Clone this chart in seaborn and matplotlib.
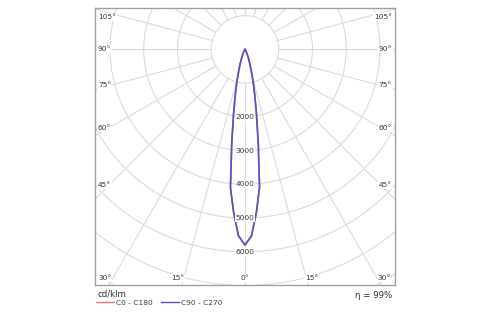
import numpy as np
import pandas as pd
import matplotlib
matplotlib.use("Agg")
import matplotlib.pyplot as plt
from matplotlib.patches import Circle
import seaborn as sns

# ---- data (cd/klm vs. gamma angle, symmetric curve) ----
gamma_deg = [0, 2, 4, 6, 8, 10, 12, 14, 16, 18, 20, 22, 25, 30, 35, 40, 45, 50, 60, 70, 80, 90]
c0_c180 = [5800, 5530, 4840, 4120, 2830, 1960, 1400, 1000, 700, 490, 340, 240, 130, 40, 10, 0, 0, 0, 0, 0, 0, 0]
c90_c270 = [5800, 5530, 4840, 4120, 2830, 1960, 1400, 1000, 700, 490, 340, 240, 130, 40, 10, 0, 0, 0, 0, 0, 0, 0]
series_names = ["C0 - C180", "C90 - C270"]
ring_values = [1000, 2000, 3000, 4000, 5000, 6000, 7000, 8000, 9000, 10000]
ring_labels = ["2000", "3000", "4000", "5000", "6000"]
ray_angles = list(range(-180, 181, 15))
side_labels = ["105°", "90°", "75°", "60°", "45°"]
bottom_labels = ["30°", "15°", "0°", "15°", "30°"]
unit_label = "cd/klm"
eta_label = "η = 99%"

colors = {"C0 - C180": "#e07a7a", "C90 - C270": "#5b4fc9"}

sns.set_theme(style="white")
plt.rcParams["font.family"] = ["DejaVu Sans"]

W, H = 500, 325
fig = plt.figure(figsize=(W / 100, H / 100), dpi=100)
# frame in px: x 95..395, y 8..285
fx0, fx1, fy0, fy1 = 95, 395, 8, 285
ax = fig.add_axes([fx0 / W, (H - fy1) / H, (fx1 - fx0) / W, (fy1 - fy0) / H])

scale = 0.03375  # px per cd/klm
cx, cy = 245, 49.3  # centre in px
ax.set_xlim((fx0 - cx) / scale, (fx1 - cx) / scale)
ax.set_ylim((cy - fy1) / scale, (cy - fy0) / scale)

grid_c = "#dcdcdc"
# rings
for r in ring_values:
    ax.add_patch(Circle((0, 0), r, fill=False, edgecolor=grid_c, lw=0.8, zorder=1))
# rays
for a in ray_angles:
    t = np.deg2rad(a)
    ax.plot([1000 * np.sin(t), 20000 * np.sin(t)], [-1000 * np.cos(t), -20000 * np.cos(t)],
            color=grid_c, lw=0.8, zorder=1)

# curve data frame
rows = []
for name, vals in zip(series_names, [c0_c180, c90_c270]):
    angs = [-a for a in gamma_deg[::-1]] + gamma_deg[1:]
    ints = vals[::-1] + vals[1:]
    for a, v in zip(angs, ints):
        t = np.deg2rad(a)
        rows.append({"x": v * np.sin(t), "y": -v * np.cos(t), "series": name})
df = pd.DataFrame(rows)
sns.lineplot(data=df, x="x", y="y", hue="series", palette=colors, sort=False,
             estimator=None, lw=1.2, ax=ax, zorder=3)
# red underneath is hidden by the blue; keep it slightly thinner
for ln in ax.get_lines()[-2:]:
    if ln.get_label() == "C0 - C180" or ln.get_color() == colors["C0 - C180"]:
        ln.set_linewidth(0.9)

ax.set_xlabel("")
ax.set_ylabel("")
ax.set_xticks([])
ax.set_yticks([])
for s in ax.spines.values():
    s.set_color("#a0a0a0")
    s.set_linewidth(1.0)
    s.set_visible(True)

fs = 5.4
tc = "#3a3a3a"
bb = dict(facecolor="white", edgecolor="none", pad=0.6)

def fx(px):
    return (px - fx0) / (fx1 - fx0)

def fy(py):
    return (fy1 - py) / (fy1 - fy0)

# ring labels
for lab in ring_labels:
    v = float(lab)
    ax.text(0, -v, lab, ha="center", va="center", fontsize=fs, color=tc, bbox=bb, zorder=5)

# side labels
side_y = [16.7, 49.3, 85, 127.7, 185]
for lab, py in zip(side_labels, side_y):
    ax.text(fx(98), fy(py), lab, transform=ax.transAxes, ha="left", va="center",
            fontsize=fs, color=tc, bbox=bb, zorder=5)
    ax.text(fx(392), fy(py), lab, transform=ax.transAxes, ha="right", va="center",
            fontsize=fs, color=tc, bbox=bb, zorder=5)
# bottom labels
bottom_x = [105, 177.5, 245, 311.8, 384]
for lab, px in zip(bottom_labels, bottom_x):
    ax.text(fx(px), fy(277.7), lab, transform=ax.transAxes, ha="center", va="center",
            fontsize=fs, color=tc, bbox=bb, zorder=5)

# unit and efficiency
ax.text(fx(97), fy(294), unit_label, transform=ax.transAxes, ha="left", va="center",
        fontsize=6.2, color="#303030", clip_on=False)
ax.text(fx(392), fy(295), eta_label, transform=ax.transAxes, ha="right", va="center",
        fontsize=6.2, color="#303030", clip_on=False)

handles, labels = ax.get_legend_handles_labels()
if ax.get_legend() is not None:
    ax.get_legend().remove()
leg = ax.legend(handles, labels, loc="center left", bbox_to_anchor=(fx(96), fy(302.5)),
                ncol=2, frameon=False, fontsize=fs, handlelength=2.4, handletextpad=0.3,
                columnspacing=1.0, borderpad=0, borderaxespad=0)
for t in leg.get_texts():
    t.set_color("#404040")
for l in leg.get_lines():
    l.set_linewidth(1.0)

fig.savefig("out.png", dpi=100)
